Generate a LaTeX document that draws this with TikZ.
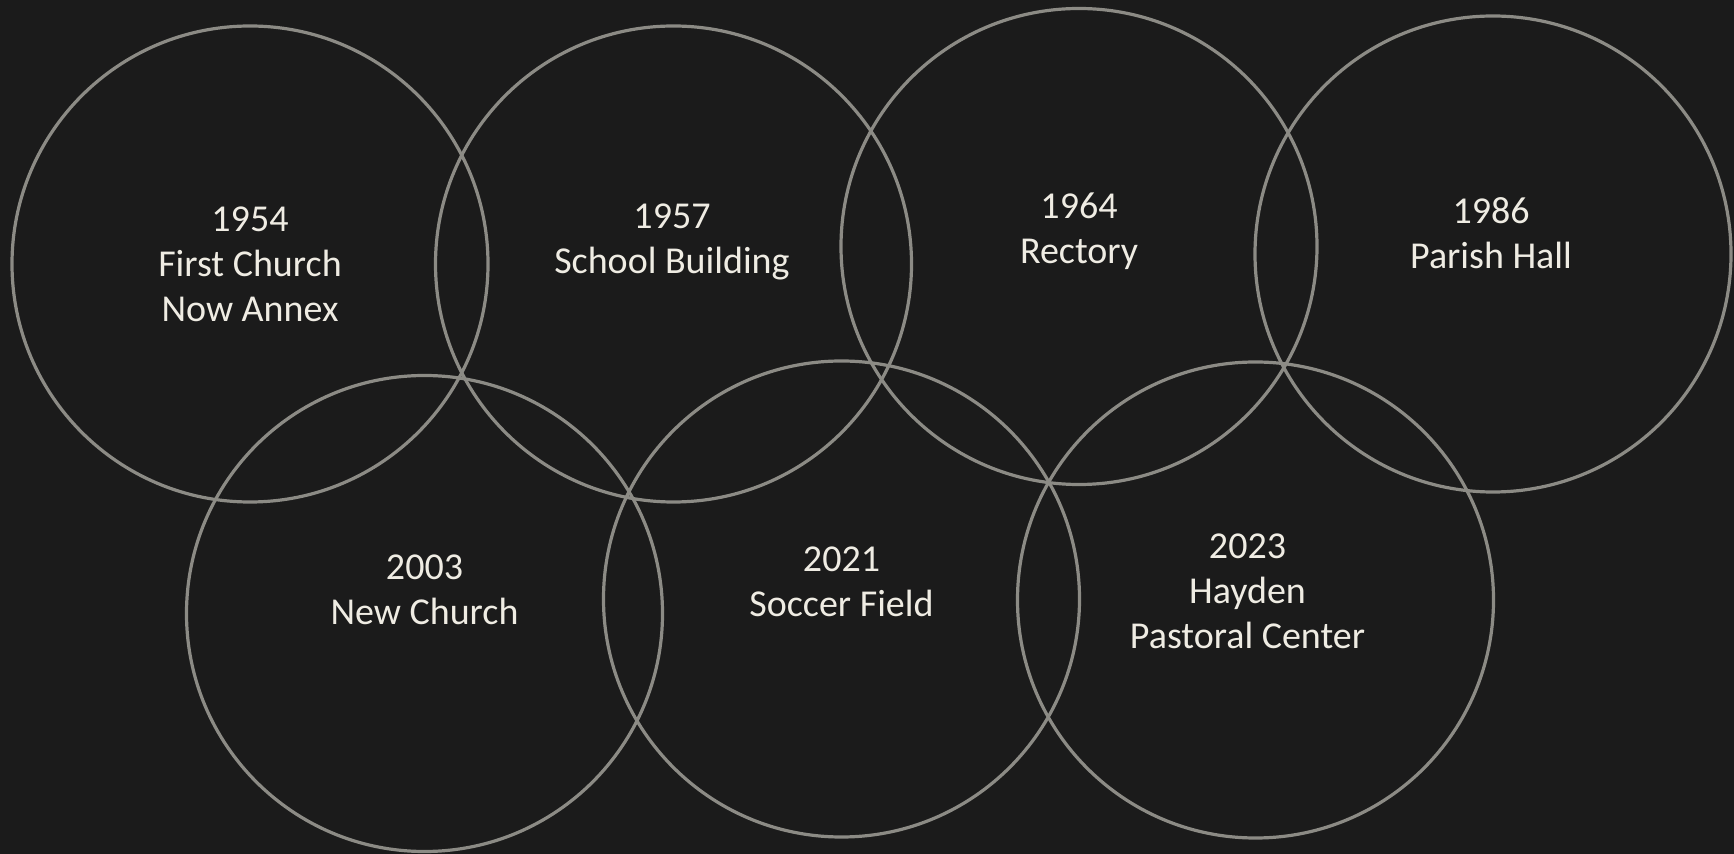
\documentclass[tikz,border=0pt]{standalone}
\usepackage{fontspec}
\setmainfont{Carlito}
\definecolor{bgdark}{HTML}{1B1B1B}
\definecolor{ringgrey}{HTML}{8C8B85}
\definecolor{capwhite}{HTML}{EFECE3}

\begin{document}
\begin{tikzpicture}[x=0.5pt,y=-0.5pt,
  ring/.style={circle,draw=ringgrey,line width=1.6pt,minimum size=238pt,inner sep=0pt},
  caption/.style={text=capwhite,align=center,font=\fontsize{19}{22.5}\selectfont}]
 \fill[bgdark] (0,0) rectangle (1734,854);
 \useasboundingbox (0,0) rectangle (1734,854);
 % top row
 \node[ring] (r1954) at (250,264) {};
 \node[ring] (r1957) at (673.5,264) {};
 \node[ring] (r1964) at (1079,246.5) {};
 \node[ring] (r1986) at (1493,254) {};
 % bottom row
 \node[ring] (r2003) at (424.5,613.5) {};
 \node[ring] (r2021) at (841.5,599) {};
 \node[ring] (r2023) at (1255.5,600) {};
 % captions
 \node[caption] (t1954) at (250,264) {1954\\First Church\\Now Annex};
 \node[caption] (t1957) at (672,242) {1957\\School Building};
 \node[caption] (t1964) at (1079,231) {1964\\Rectory};
 \node[caption] (t1986) at (1491,233) {1986\\Parish Hall};
 \node[caption] (t2003) at (424.5,590) {2003\\New Church};
 \node[caption] (t2021) at (841.5,582) {2021\\Soccer Field};
 \node[caption] (t2023) at (1247.5,591) {2023\\Hayden\\Pastoral Center};
\end{tikzpicture}
\end{document}
